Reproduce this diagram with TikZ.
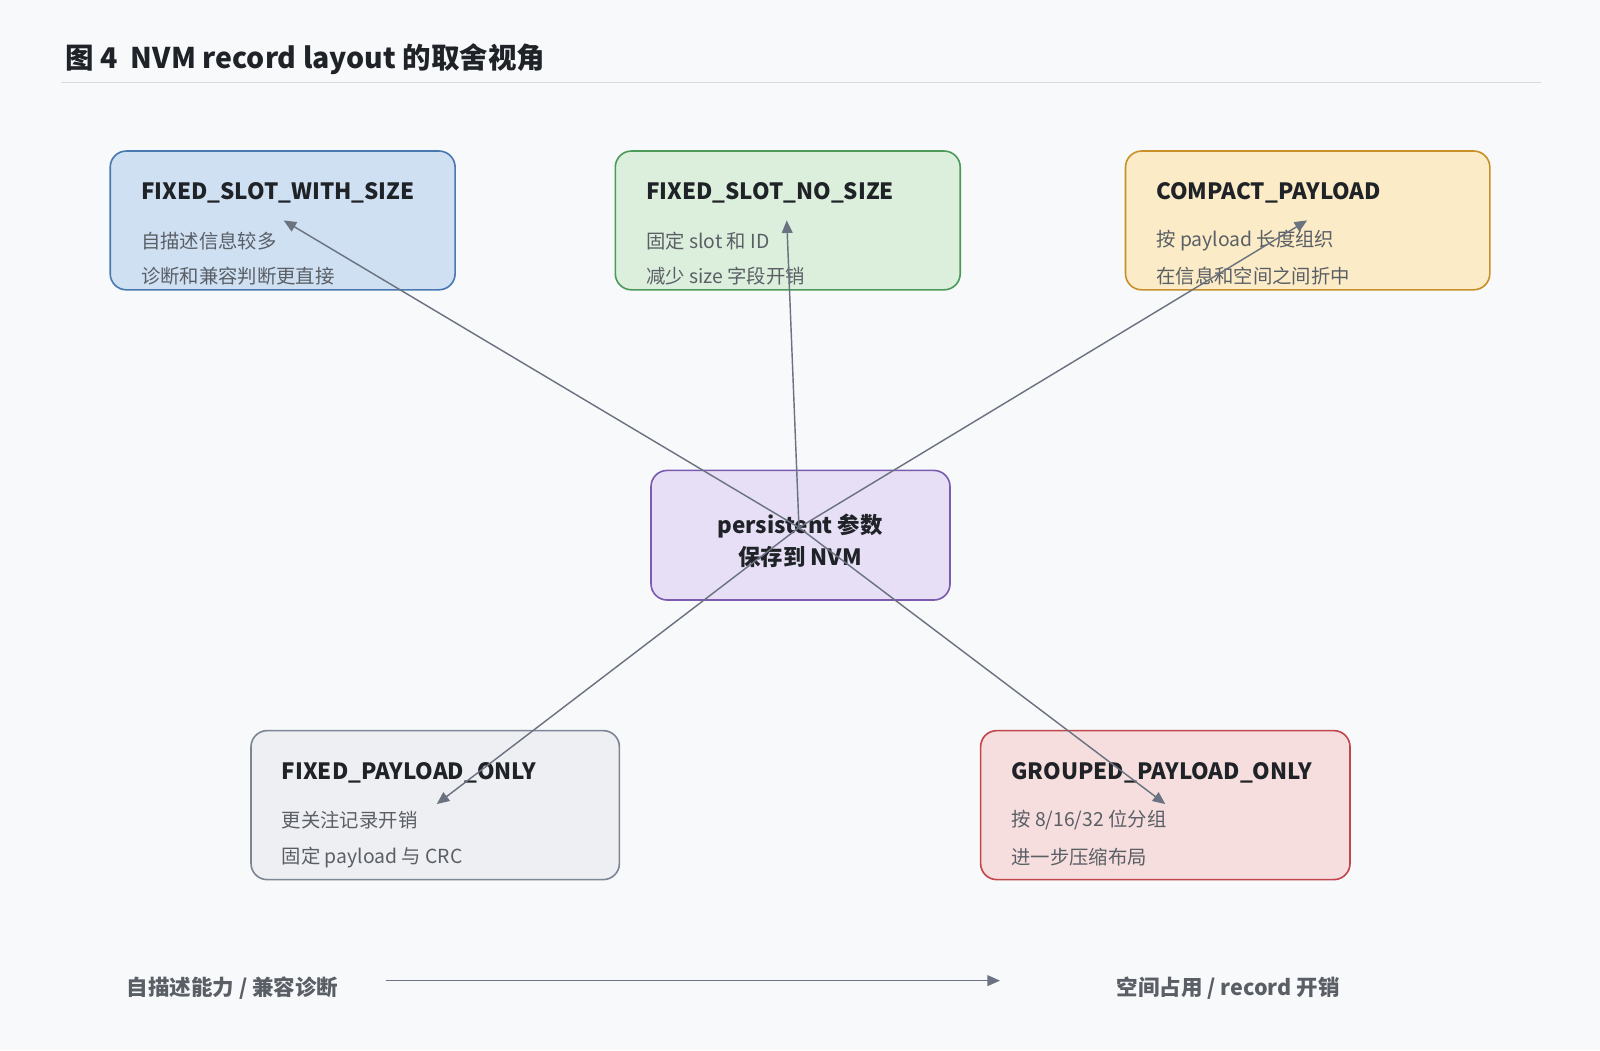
\documentclass[tikz,border=0pt]{standalone}
\usepackage{fontspec}
\setmainfont{Noto Sans CJK SC}
\usetikzlibrary{arrows.meta}
\definecolor{bg}{HTML}{F8F9FB}
\definecolor{ar}{HTML}{6B7280}
\definecolor{tx}{HTML}{1F2328}
\definecolor{sub}{HTML}{5A5F66}
\tikzset{x=0.02cm,y=-0.02cm,
 box/.style={draw=#1!80!black,line width=0.9pt,rounded corners=12pt,inner sep=0pt},
 ttl/.style={anchor=west,font=\fontsize{12.5}{14}\selectfont\bfseries,text=tx},
 ln/.style={anchor=west,font=\fontsize{10.8}{12}\selectfont,text=sub},
 arr/.style={draw=ar,line width=0.8pt,-{Triangle[length=7pt,width=6pt]}},
 ax/.style={font=\fontsize{12}{14}\selectfont\bfseries,text=sub}}
\begin{document}
\begin{tikzpicture}
\fill[bg] (0,0) rectangle (1568,1029);
\useasboundingbox (0,0) rectangle (1568,1029);
\node[anchor=west,font=\fontsize{15.9}{18}\selectfont\bfseries,text=tx] (title) at (58,58) {图 4\ \ NVM record layout 的取舍视角};
\draw[draw=black!15,line width=0.8pt] (60,81) -- (1510,81);
\definecolor{fa}{HTML}{CFE0F3}\definecolor{da}{HTML}{4A78B0}
\definecolor{fb}{HTML}{DCEFDC}\definecolor{db}{HTML}{4C9A5A}
\definecolor{fc}{HTML}{FBEBC6}\definecolor{dc}{HTML}{C9902A}
\definecolor{fm}{HTML}{E6DFF5}\definecolor{dm}{HTML}{7A5BB0}
\definecolor{fd}{HTML}{EEEFF2}\definecolor{dd}{HTML}{7B8594}
\definecolor{fe}{HTML}{F6DEDE}\definecolor{de}{HTML}{C0464C}
\path[fill=fa,draw=da,line width=0.9pt,rounded corners=9pt] (108,148) rectangle (446,284);
\path[fill=fb,draw=db,line width=0.9pt,rounded corners=9pt] (603,148) rectangle (941,284);
\path[fill=fc,draw=dc,line width=0.9pt,rounded corners=9pt] (1103,148) rectangle (1460,284);
\path[fill=fm,draw=dm,line width=0.9pt,rounded corners=9pt] (638,461) rectangle (931,588);
\path[fill=fd,draw=dd,line width=0.9pt,rounded corners=9pt] (246,716) rectangle (607,862);
\path[fill=fe,draw=de,line width=0.9pt,rounded corners=9pt] (961,716) rectangle (1323,862);
\node[ttl] (at) at (132,189) {FIXED\_SLOT\_WITH\_SIZE};
\node[ln] (a1) at (132,236) {自描述信息较多};
\node[ln] (a2) at (132,271) {诊断和兼容判断更直接};
\node[ttl] (bt) at (627,189) {FIXED\_SLOT\_NO\_SIZE};
\node[ln] (b1) at (627,236) {固定 slot 和 ID};
\node[ln] (b2) at (627,271) {减少 size 字段开销};
\node[ttl] (ct) at (1127,189) {COMPACT\_PAYLOAD};
\node[ln] (c1) at (1127,236) {按 payload 长度组织};
\node[ln] (c2) at (1127,271) {在信息和空间之间折中};
\node[align=center,font=\fontsize{12.5}{17.5}\selectfont\bfseries,text=tx] (m) at (784,530) {persistent 参数\\保存到 NVM};
\node[ttl] (dt) at (270,757) {FIXED\_PAYLOAD\_ONLY};
\node[ln] (d1) at (270,804) {更关注记录开销};
\node[ln] (d2) at (270,840) {固定 payload 与 CRC};
\node[ttl] (et) at (985,757) {GROUPED\_PAYLOAD\_ONLY};
\node[ln] (e1) at (985,804) {按 8/16/32 位分组};
\node[ln] (e2) at (985,840) {进一步压缩布局};
\coordinate (o) at (783,517);
\coordinate (ta) at (278,216);
\coordinate (tb) at (771,216);
\coordinate (tc) at (1281,216);
\coordinate (td) at (428,788);
\coordinate (te) at (1142,788);
\draw[arr] (o) -- (ta);
\draw[arr] (o) -- (tb);
\draw[arr] (o) -- (tc);
\draw[arr] (o) -- (td);
\draw[arr] (o) -- (te);
\node[ax,anchor=west] (l) at (118,968) {自描述能力 / 兼容诊断};
\node[ax,anchor=west] (r) at (1088,968) {空间占用 / record 开销};
\coordinate (s0) at (378,961);
\coordinate (s1) at (980,961);
\draw[arr] (s0) -- (s1);
\end{tikzpicture}
\end{document}
